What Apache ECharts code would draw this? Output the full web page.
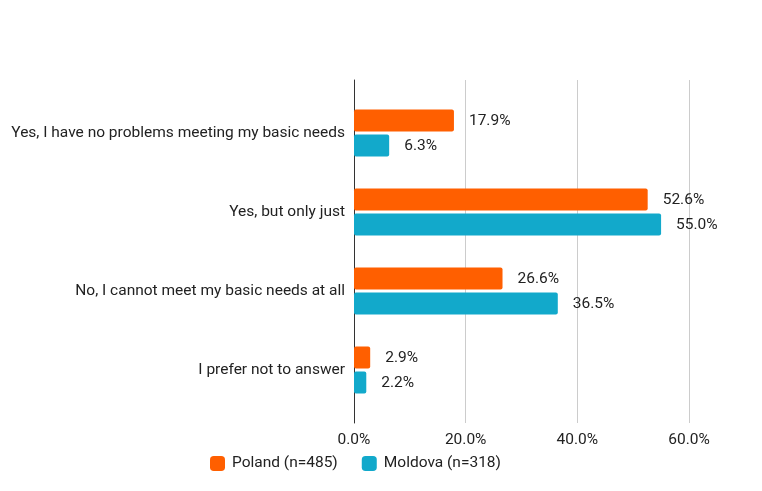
<!DOCTYPE html>
<html>
<head>
<meta charset="utf-8">
<script src="https://cdn.jsdelivr.net/npm/echarts@6/dist/echarts.min.js"></script>
<style>
  html, body { margin: 0; padding: 0; background: #fff; }
  #chart { width: 762px; height: 491px; }
</style>
</head>
<body>
<div id="chart"></div>
<script>
// Survey answers (categories, top to bottom)
const categories = [
  'Yes, I have no problems meeting my basic needs',
  'Yes, but only just',
  'No, I cannot meet my basic needs at all',
  'I prefer not to answer'
];
// Share of respondents, percent
const poland = [17.9, 52.6, 26.6, 2.9];
const moldova = [6.3, 55.0, 36.5, 2.2];
const seriesNames = ['Poland (n=485)', 'Moldova (n=318)'];
const xTicks = { min: 0, max: 60, interval: 20 };

const FONT = 'Roboto';
const FS = 15.5;
const textColor = '#222';
const colors = ['#FF5F00', '#12A9CB'];

const chart = echarts.init(document.getElementById('chart'));

const pct = v => v.toFixed(1) + '%';

function barSeries(name, data, color) {
  return {
    name: name,
    type: 'bar',
    xAxisIndex: 1,
    yAxisIndex: 1,
    data: data,
    barWidth: 22,
    barGap: '14%',
    itemStyle: { color: color, borderRadius: 2 },
    label: {
      show: true,
      position: 'right',
      distance: 15,
      offset: [0, 1],
      formatter: p => pct(p.value),
      fontFamily: FONT,
      fontSize: FS,
      color: textColor
    }
  };
}

chart.setOption({
  animation: false,
  textStyle: { fontFamily: FONT },
  color: colors,
  grid: [
    // frame: gridlines, axis line and tick labels
    { left: 354, right: 73, top: 80, bottom: 68 },
    // bars and category labels
    { left: 354, right: 73, top: 93.5, bottom: 81.5 }
  ],
  xAxis: [
    {
      gridIndex: 0,
      type: 'value',
      min: xTicks.min, max: xTicks.max, interval: xTicks.interval,
      axisLine: { show: false },
      axisTick: { show: false },
      splitLine: { lineStyle: { color: '#cccccc', width: 1 } },
      axisLabel: {
        formatter: v => pct(v),
        fontFamily: FONT, fontSize: FS, color: textColor, margin: 9
      }
    },
    {
      gridIndex: 1,
      type: 'value',
      min: xTicks.min, max: xTicks.max, interval: xTicks.interval,
      show: false
    }
  ],
  yAxis: [
    {
      gridIndex: 0,
      type: 'value',
      min: 0, max: 1,
      axisLine: { show: true, lineStyle: { color: '#333', width: 1 } },
      axisTick: { show: false },
      axisLabel: { show: false },
      splitLine: { show: false }
    },
    {
      gridIndex: 1,
      type: 'category',
      data: categories,
      inverse: true,
      axisLine: { show: false },
      axisTick: { show: false },
      axisLabel: {
        fontFamily: FONT, fontSize: FS, color: textColor, margin: 9
      }
    }
  ],
  legend: {
    bottom: 14.5,
    left: 205,
    itemWidth: 15,
    itemHeight: 15,
    itemGap: 24,
    icon: 'roundRect',
    textStyle: {
      fontFamily: FONT, fontSize: FS, color: textColor,
      padding: [0, 0, 0, 2]
    },
    data: seriesNames
  },
  series: [
    barSeries(seriesNames[0], poland, colors[0]),
    barSeries(seriesNames[1], moldova, colors[1])
  ]
});
</script>
</body>
</html>
